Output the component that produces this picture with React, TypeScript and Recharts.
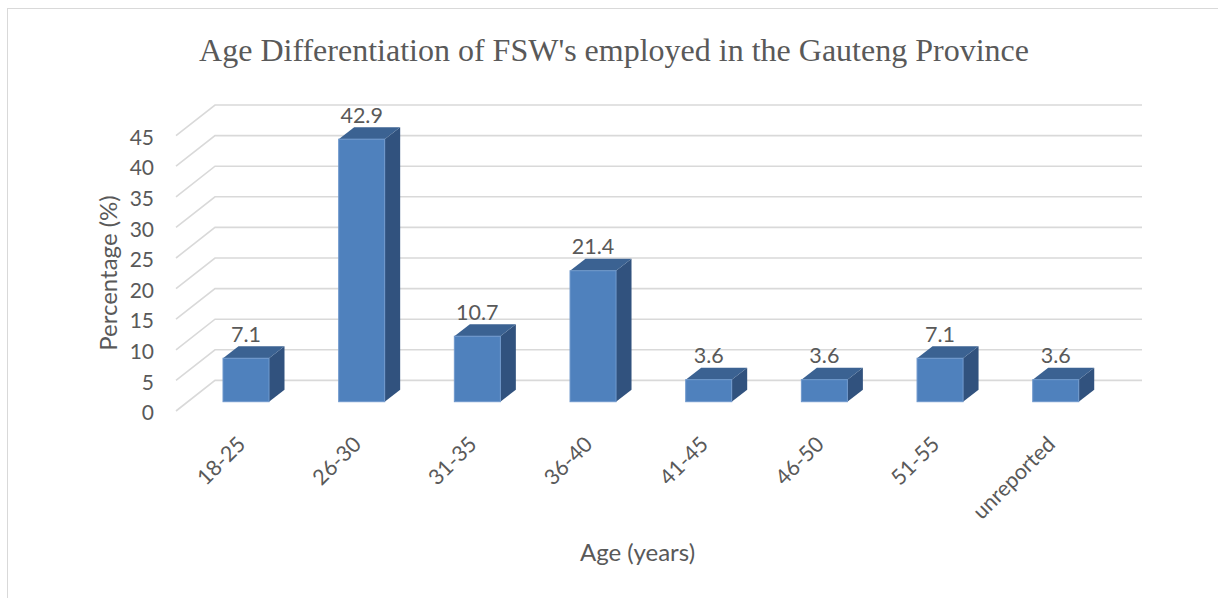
import React from 'react';
import { BarChart, Bar, XAxis, YAxis, CartesianGrid, LabelList } from 'recharts';

const categories = ['18-25', '26-30', '31-35', '36-40', '41-45', '46-50', '51-55', 'unreported'];
const percentages = [7.1, 42.9, 10.7, 21.4, 3.6, 3.6, 7.1, 3.6];
const yTicks = [0, 5, 10, 15, 20, 25, 30, 35, 40, 45];
const chartTitle = "Age Differentiation of FSW's employed in the Gauteng Province";
const xTitle = 'Age (years)';
const yTitle = 'Percentage (%)';

const data = categories.map((c, i) => ({ category: c, value: percentages[i] }));

const FONT = 'Lato, "Open Sans", sans-serif';
const SERIF = '"Liberation Serif", "Times New Roman", serif';
const TEXT = '#595959';
const GRID = '#d9d9d9';
const DX = 15.5;
const DY = -12;

const Bar3D = (props: any) => {
  const { x, y, width, height } = props;
  if (width == null || height == null) return null;
  const side = `${x + width},${y} ${x + width + DX},${y + DY} ${x + width + DX},${y + height + DY} ${x + width},${y + height}`;
  const top = `${x},${y} ${x + DX},${y + DY} ${x + width + DX},${y + DY} ${x + width},${y}`;
  return (
    <g>
      <polygon points={side} fill="#31527E" />
      <polygon points={top} fill="#3B6292" />
      <rect x={x} y={y} width={width} height={height} fill="#4F81BD" stroke="#6F98CC" strokeWidth={1} />
    </g>
  );
};

const gridLine = (props: any) => {
  const { x1, y1, x2, key } = props;
  const d = `M ${x1 - 12} ${y1 + 9.3} L ${x1 + 27} ${y1 - 21.3} L ${x2 + 28.6} ${y1 - 21.3}`;
  return <path key={key} d={d} stroke={GRID} strokeWidth={1.6} fill="none" />;
};

const YTick = (props: any) => {
  const { x, y, payload } = props;
  return (
    <text x={x - 34} y={y + 10} textAnchor="end" dominantBaseline="central" fontSize={21} fill={TEXT} fontFamily={FONT}>
      {payload.value}
    </text>
  );
};

const XTick = (props: any) => {
  const { x, y, payload } = props;
  return (
    <text transform={`translate(${x + 1},${y + 44}) rotate(-45)`} textAnchor="end" fontSize={21.5} fill={TEXT} fontFamily={FONT}>
      {payload.value}
    </text>
  );
};

const ValueLabel = (props: any) => {
  const { x, y, width, value } = props;
  return (
    <text x={x + width / 2} y={y - 24.5} textAnchor="middle" dominantBaseline="central" fontSize={21.5} fill={TEXT} fontFamily={FONT}>
      {value}
    </text>
  );
};

export default function App() {
  return (
    <div style={{ position: 'absolute', left: 0, top: 0, width: 1218, height: 598, background: '#fff' }}>
      <BarChart
        width={1218}
        height={598}
        data={data}
        margin={{ top: 126.3, right: 104.6, bottom: 46.3, left: 0 }}
      >
        <CartesianGrid vertical={false} horizontal={gridLine} />
        <XAxis
          dataKey="category"
          height={150}
          axisLine={false}
          tickLine={false}
          tickSize={0}
          tickMargin={0}
          interval={0}
          tick={<XTick />}
        />
        <YAxis
          width={188}
          domain={[0, 45]}
          ticks={yTicks}
          axisLine={false}
          tickLine={false}
          tickSize={0}
          tickMargin={0}
          interval={0}
          tick={<YTick />}
        />
        <Bar dataKey="value" barSize={46} shape={<Bar3D />} isAnimationActive={false}>
          <LabelList dataKey="value" content={<ValueLabel />} />
        </Bar>
      </BarChart>
      <svg width={1218} height={598} style={{ position: 'absolute', left: 0, top: 0, pointerEvents: 'none' }}>
        <rect x={7.5} y={8.5} width={1240} height={620} fill="none" stroke={GRID} strokeWidth={1} />
        <text x={614} y={61} textAnchor="middle" fontSize={32} fill={TEXT} fontFamily={SERIF}>
          {chartTitle}
        </text>
        <text transform="translate(107,273) rotate(-90)" textAnchor="middle" dominantBaseline="central" fontSize={24} fill={TEXT} fontFamily={FONT}>
          {yTitle}
        </text>
        <text x={637.5} y={551.7} textAnchor="middle" dominantBaseline="central" fontSize={24} fill={TEXT} fontFamily={FONT}>
          {xTitle}
        </text>
      </svg>
    </div>
  );
}
